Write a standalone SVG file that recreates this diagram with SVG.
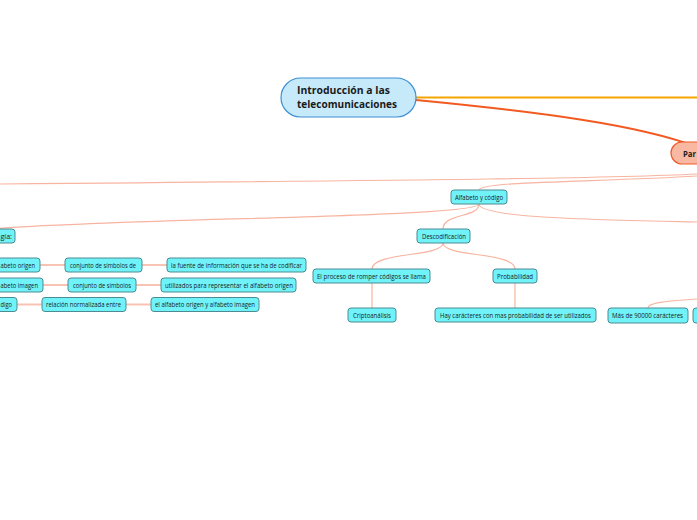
<svg xmlns="http://www.w3.org/2000/svg" width="697" height="520" viewBox="0 0 697 520">
<style>
.sub rect{fill:#70f3f8;stroke:#4d8b93;stroke-width:1}
.sub text{font-family:"Open Sans","DejaVu Sans",sans-serif;font-size:6.5px;fill:#1a1a1a}
.c{fill:none;stroke:#f8b4a0;stroke-width:1.2}
.h{fill:none;stroke:#f9c3b3;stroke-width:2}
</style>
<defs>
<linearGradient id="blue" x1="0" y1="0" x2="1" y2="0">
<stop offset="0" stop-color="#1b6fe0"/>
<stop offset="1" stop-color="#1452b0"/>
</linearGradient>
</defs>
<rect width="697" height="520" fill="#ffffff"/>
<g id="connectors">
<path d="M0,97.5 L282,97.5" stroke="url(#blue)" stroke-width="2" fill="none"/>
<path d="M416,97.5 L697,97.5" stroke="#f6a400" stroke-width="2" fill="none"/>
<path d="M416,100 C540,112 640,125 697,147" stroke="#f25a22" stroke-width="2" fill="none"/>
<path class="c" d="M697,174 C620,178 450,180 0,184" stroke-width="1.6"/>
<path class="c" d="M697,176 C600,182 480,181 479,190"/>
<path class="c" d="M479,204 C479,218 100,218 -20,230"/>
<path class="c" d="M479,204 C479,218 600,220 697,222"/>
<path class="c" d="M479,204 C479,218 443,213 443,229"/>
<path class="c" d="M443,243 C443,257 372,252 372,269"/>
<path class="c" d="M443,243 C443,257 515,252 515,269"/>
<path class="c" d="M372,283 L372,308"/>
<path class="c" d="M515,283 L515,308"/>
<path class="c" d="M648,308 C648,302 670,301 697,299"/>
<path class="h" d="M40,265 L65,265 M142,265 L167,265"/>
<path class="h" d="M43,285 L68,285 M136,285 L161,285"/>
<path class="h" d="M17,304.5 L42,304.5 M126,304.5 L151,304.5"/>
</g>
<g id="central">
<rect x="281" y="78" width="135" height="39" rx="19.5" fill="#c7eafa" stroke="#3d8fd3" stroke-width="1.2"/>
<text font-family="'Open Sans','DejaVu Sans',sans-serif" font-size="11" font-weight="bold" fill="#1a1a1a">
<tspan x="297" y="94" textLength="93" lengthAdjust="spacingAndGlyphs">Introducción a las</tspan>
<tspan x="297" y="107.5" textLength="100" lengthAdjust="spacingAndGlyphs">telecomunicaciones</tspan>
</text>
</g>
<g id="par">
<rect x="671" y="142" width="60" height="22" rx="11" fill="#f9b8a2" stroke="#f05a28" stroke-width="1.2"/>
<text x="683" y="156.5" font-family="'Open Sans','DejaVu Sans',sans-serif" font-size="8.5" font-weight="bold" fill="#1a1a1a" textLength="13" lengthAdjust="spacingAndGlyphs">Par</text>
</g>
<g id="terminologia" class="sub">
<rect x="-40" y="229" width="55" height="14" rx="3"/>
<text x="0.5" y="238.5" textLength="11.5" lengthAdjust="spacingAndGlyphs">gía:</text>
</g>
<g id="alfabeto-codigo" class="sub">
<rect x="451" y="190" width="56" height="14" rx="3"/>
<text x="455" y="199.5" textLength="48" lengthAdjust="spacingAndGlyphs">Alfabeto y código</text>
</g>
<g id="alfabeto-origen" class="sub">
<rect x="-20" y="258" width="60" height="14" rx="3"/>
<text x="0.5" y="267.5" textLength="34.5" lengthAdjust="spacingAndGlyphs">abeto origen</text>
</g>
<g id="conjunto-de" class="sub">
<rect x="65" y="258" width="77" height="14" rx="3"/>
<text x="70" y="267.5" textLength="66" lengthAdjust="spacingAndGlyphs">conjunto de símbolos de</text>
</g>
<g id="fuente" class="sub">
<rect x="167" y="258" width="139" height="14" rx="3"/>
<text x="171" y="267.5" textLength="131" lengthAdjust="spacingAndGlyphs">la fuente de información que se ha de codificar</text>
</g>
<g id="alfabeto-imagen" class="sub">
<rect x="-20" y="278" width="63" height="14" rx="3"/>
<text x="0.5" y="287.5" textLength="37.5" lengthAdjust="spacingAndGlyphs">abeto imagen</text>
</g>
<g id="conjunto" class="sub">
<rect x="68" y="278" width="68" height="14" rx="3"/>
<text x="73" y="287.5" textLength="58" lengthAdjust="spacingAndGlyphs">conjunto de símbolos</text>
</g>
<g id="utilizados" class="sub">
<rect x="161" y="278" width="135" height="14" rx="3"/>
<text x="165" y="287.5" textLength="128" lengthAdjust="spacingAndGlyphs">utilizados para representar el alfabeto origen</text>
</g>
<g id="codigo" class="sub">
<rect x="-20" y="297.5" width="37" height="14" rx="3"/>
<text x="0.5" y="307" textLength="11.5" lengthAdjust="spacingAndGlyphs">digo</text>
</g>
<g id="relacion" class="sub">
<rect x="42" y="297.5" width="84" height="14" rx="3"/>
<text x="46" y="307" textLength="75" lengthAdjust="spacingAndGlyphs">relación normalizada entre</text>
</g>
<g id="origen-imagen" class="sub">
<rect x="151" y="297.5" width="108" height="14" rx="3"/>
<text x="155" y="307" textLength="100" lengthAdjust="spacingAndGlyphs">el alfabeto origen y alfabeto imagen</text>
</g>
<g id="descodificacion" class="sub">
<rect x="417" y="229" width="53" height="14" rx="3"/>
<text x="422" y="238.5" textLength="44" lengthAdjust="spacingAndGlyphs">Descodificación</text>
</g>
<g id="proceso" class="sub">
<rect x="313" y="269" width="117" height="14" rx="3"/>
<text x="317" y="278.5" textLength="109" lengthAdjust="spacingAndGlyphs">El proceso de romper códigos se llama</text>
</g>
<g id="probabilidad" class="sub">
<rect x="493" y="269" width="44" height="14" rx="3"/>
<text x="497" y="278.5" textLength="36" lengthAdjust="spacingAndGlyphs">Probabilidad</text>
</g>
<g id="criptoanalisis" class="sub">
<rect x="348" y="308" width="48" height="14" rx="3"/>
<text x="353" y="317.5" textLength="38" lengthAdjust="spacingAndGlyphs">Criptoanálisis</text>
</g>
<g id="hay-caracteres" class="sub">
<rect x="435" y="308" width="161" height="14" rx="3"/>
<text x="440" y="317.5" textLength="151" lengthAdjust="spacingAndGlyphs">Hay carácteres con mas probabilidad de ser utilizados</text>
</g>
<g id="mas-de-90000" class="sub">
<rect x="608" y="308" width="80" height="15" rx="3"/>
<text x="612" y="318" textLength="71" lengthAdjust="spacingAndGlyphs">Más de 90000 carácteres</text>
</g>
<g id="right-partial" class="sub">
<rect x="693" y="308" width="30" height="15" rx="3"/>
</g>
</svg>
